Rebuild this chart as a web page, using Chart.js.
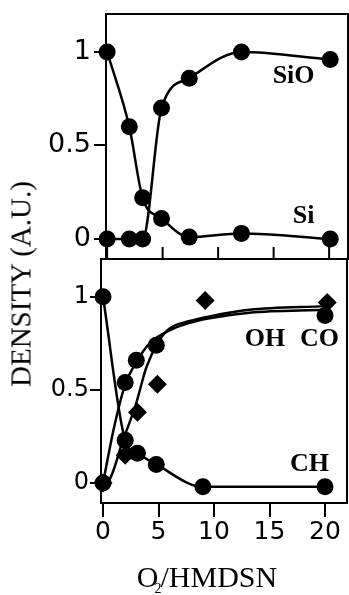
<!DOCTYPE html>
<html>
<head>
<meta charset="utf-8">
<script src="https://cdn.jsdelivr.net/npm/chart.js@4"></script>
<style>
  html, body { margin: 0; padding: 0; background: #fff; }
  #wrap { position: relative; width: 349px; height: 595px; overflow: hidden; background: #fff; }
  #wrap canvas { position: absolute; left: 0; }
  #topCanvas { top: 0; }
  #bottomCanvas { top: 250px; }
  .title { position: absolute; white-space: nowrap; color: #000; font-family: "Liberation Serif", serif; }
  #yTitle { left: 21px; top: 284px; font-size: 29px; line-height: 29px;
            transform: translate(-50%, -50%) rotate(-90deg); }
  #xTitle { left: 207px; top: 562px; font-size: 30px; line-height: 30px; transform: translateX(-50%); }
  #xTitle .sub { font-size: 14px; position: relative; top: 6px; margin-left: -4px; margin-right: -1px; }
</style>
</head>
<body>
<div id="wrap">
  <canvas id="topCanvas" width="349" height="262"></canvas>
  <canvas id="bottomCanvas" width="349" height="345"></canvas>
  <div id="yTitle" class="title">DENSITY (A.U.)</div>
  <div id="xTitle" class="title">O<span class="sub">2</span>/HMDSN</div>
</div>
<script>
// ---- Upper panel: Si and SiO emission densities vs O2/HMDSN ratio ----
const o2RatioTop = [0, 2.0, 3.2, 4.9, 7.4, 12.1, 20.1];
const siDensity  = [1.0, 0.60, 0.22, 0.11, 0.01, 0.03, 0.0];
const sioDensity = [0.0, 0.0, 0.0, 0.70, 0.86, 1.0, 0.96];

// ---- Lower panel: CH, OH and CO densities ----
const o2RatioCH = [0, 2.0, 3.1, 4.8, 9.0, 20.0];
const chDensity = [1.0, 0.23, 0.16, 0.10, -0.02, -0.02];

const o2RatioOH = [0, 2.0, 3.0, 4.8, 20.0];
const ohDensity = [0.0, 0.54, 0.66, 0.74, 0.90];

const o2RatioCO = [0, 2.0, 3.1, 4.9, 9.2, 20.2];
const coDensity = [0.0, 0.15, 0.38, 0.53, 0.98, 0.97];

// fitted trend curves for OH and CO
const ohFitX = [0, 1.0, 2.0, 3.0, 4.2, 6.0, 7.8, 9.6, 13.2, 20.0];
const ohFitY = [0, 0.30, 0.53, 0.65, 0.75, 0.82, 0.86, 0.885, 0.915, 0.93];
const coFitX = [0, 0.6, 1.8, 2.9, 3.9, 5.0, 6.0, 7.8, 9.6, 13.2, 20.0];
const coFitY = [0, 0.02, 0.23, 0.41, 0.62, 0.76, 0.83, 0.87, 0.895, 0.93, 0.95];

// axis ticks
const xTickValues = [0, 5, 10, 15, 20];
const xTickLabels = ['0', '5', '10', '15', '20'];
const yTickValues = [0, 0.5, 1];
const yTickLabels = ['0', '0.5', '1'];

const pts = (xs, ys) => xs.map((x, i) => ({ x: x, y: ys[i] }));

Chart.defaults.font.family = '"DejaVu Sans", sans-serif';
Chart.defaults.color = '#000';
Chart.defaults.animation = false;

// frame around the plot area plus optional inward x ticks
const framePlugin = {
  id: 'frame',
  beforeDatasetsDraw(chart, args, opts) {
    const { ctx, chartArea: a } = chart;
    ctx.save();
    ctx.strokeStyle = '#000';
    ctx.lineWidth = 2;
    ctx.strokeRect(a.left, a.top, a.right - a.left, a.bottom - a.top);
    if (opts.innerTicks) {
      const xs = chart.scales.x;
      xTickValues.forEach(v => {
        const px = xs.getPixelForValue(v);
        ctx.beginPath();
        ctx.moveTo(px, a.bottom);
        ctx.lineTo(px, a.bottom - opts.innerTicks);
        ctx.stroke();
      });
    }
    ctx.restore();
  }
};

// series names written inside the plot
const seriesLabelPlugin = {
  id: 'seriesLabels',
  afterDatasetsDraw(chart, args, opts) {
    const { ctx } = chart;
    const xs = chart.scales.x, ys = chart.scales.y;
    ctx.save();
    ctx.fillStyle = '#000';
    ctx.font = 'bold 26px "Liberation Serif", serif';
    ctx.textAlign = 'center';
    ctx.textBaseline = 'alphabetic';
    (opts.items || []).forEach(it => {
      ctx.fillText(it.text, xs.getPixelForValue(it.x), ys.getPixelForValue(it.y));
    });
    ctx.restore();
  }
};

const lineStyle = {
  borderColor: '#000',
  borderWidth: 2.5,
  backgroundColor: '#000',
  pointBackgroundColor: '#000',
  pointBorderWidth: 0,
  pointHoverRadius: 0,
  cubicInterpolationMode: 'monotone',
  clip: false,
  fill: false
};
const circleMarks = { pointStyle: 'circle', pointRadius: 8.5 };
const diamondMarks = { pointStyle: 'rectRot', pointRadius: 9.5 };

function yAxis(width, fontSize, tickLen, pad) {
  return {
    type: 'linear',
    min: -0.107,
    max: 1.203,
    afterBuildTicks: s => { s.ticks = yTickValues.map(v => ({ value: v })); },
    afterFit: s => { s.width = width; s.paddingTop = 0; s.paddingBottom = 0; },
    ticks: {
      font: { size: fontSize },
      padding: pad,
      callback: (v) => yTickLabels[yTickValues.indexOf(v)]
    },
    grid: { drawOnChartArea: false, drawTicks: true, tickLength: tickLen, color: '#000', lineWidth: 2 },
    border: { display: false }
  };
}

// upper chart
new Chart(document.getElementById('topCanvas'), {
  type: 'line',
  data: {
    datasets: [
      Object.assign({ label: 'Si', data: pts(o2RatioTop, siDensity) }, lineStyle, circleMarks),
      Object.assign({ label: 'SiO', data: pts(o2RatioTop, sioDensity) }, lineStyle, circleMarks)
    ]
  },
  options: {
    responsive: false,
    devicePixelRatio: 1,
    layout: { autoPadding: false, padding: { top: 14, right: 1, bottom: 3, left: 0 } },
    scales: {
      x: { type: 'linear', min: -0.1, max: 21.7, display: false },
      y: yAxis(106, 27, 12, 3)
    },
    plugins: {
      legend: { display: false },
      tooltip: { enabled: false },
      frame: { innerTicks: 12 },
      seriesLabels: { items: [
        { text: 'SiO', x: 16.8, y: 0.834 },
        { text: 'Si', x: 17.7, y: 0.086 }
      ] }
    }
  },
  plugins: [framePlugin, seriesLabelPlugin]
});

// lower chart
new Chart(document.getElementById('bottomCanvas'), {
  type: 'line',
  data: {
    datasets: [
      Object.assign({ label: 'CH', data: pts(o2RatioCH, chDensity) }, lineStyle, circleMarks),
      Object.assign({ label: 'OH fit', data: pts(ohFitX, ohFitY) }, lineStyle, { pointRadius: 0 }),
      Object.assign({ label: 'CO fit', data: pts(coFitX, coFitY) }, lineStyle, { pointRadius: 0 }),
      Object.assign({ label: 'OH', data: pts(o2RatioOH, ohDensity), showLine: false }, lineStyle, circleMarks),
      Object.assign({ label: 'CO', data: pts(o2RatioCO, coDensity), showLine: false }, lineStyle, diamondMarks)
    ]
  },
  options: {
    responsive: false,
    devicePixelRatio: 1,
    layout: { autoPadding: false, padding: { top: 9, right: 2, bottom: 0, left: 0 } },
    scales: {
      x: {
        type: 'linear',
        min: -0.18,
        max: 21.98,
        afterBuildTicks: s => { s.ticks = xTickValues.map(v => ({ value: v })); },
        afterFit: s => { s.height = 92; s.paddingLeft = 0; s.paddingRight = 0; },
        ticks: {
          font: { size: 25 },
          padding: 0,
          maxRotation: 0,
          callback: (v) => xTickLabels[xTickValues.indexOf(v)]
        },
        grid: { drawOnChartArea: false, drawTicks: true, tickLength: 14, color: '#000', lineWidth: 2 },
        border: { display: false }
      },
      y: yAxis(101, 24, 11, 1)
    },
    plugins: {
      legend: { display: false },
      tooltip: { enabled: false },
      frame: {},
      seriesLabels: { items: [
        { text: 'OH', x: 14.6, y: 0.737 },
        { text: 'CO', x: 19.5, y: 0.737 },
        { text: 'CH', x: 18.6, y: 0.065 }
      ] }
    }
  },
  plugins: [framePlugin, seriesLabelPlugin]
});
</script>
</body>
</html>
